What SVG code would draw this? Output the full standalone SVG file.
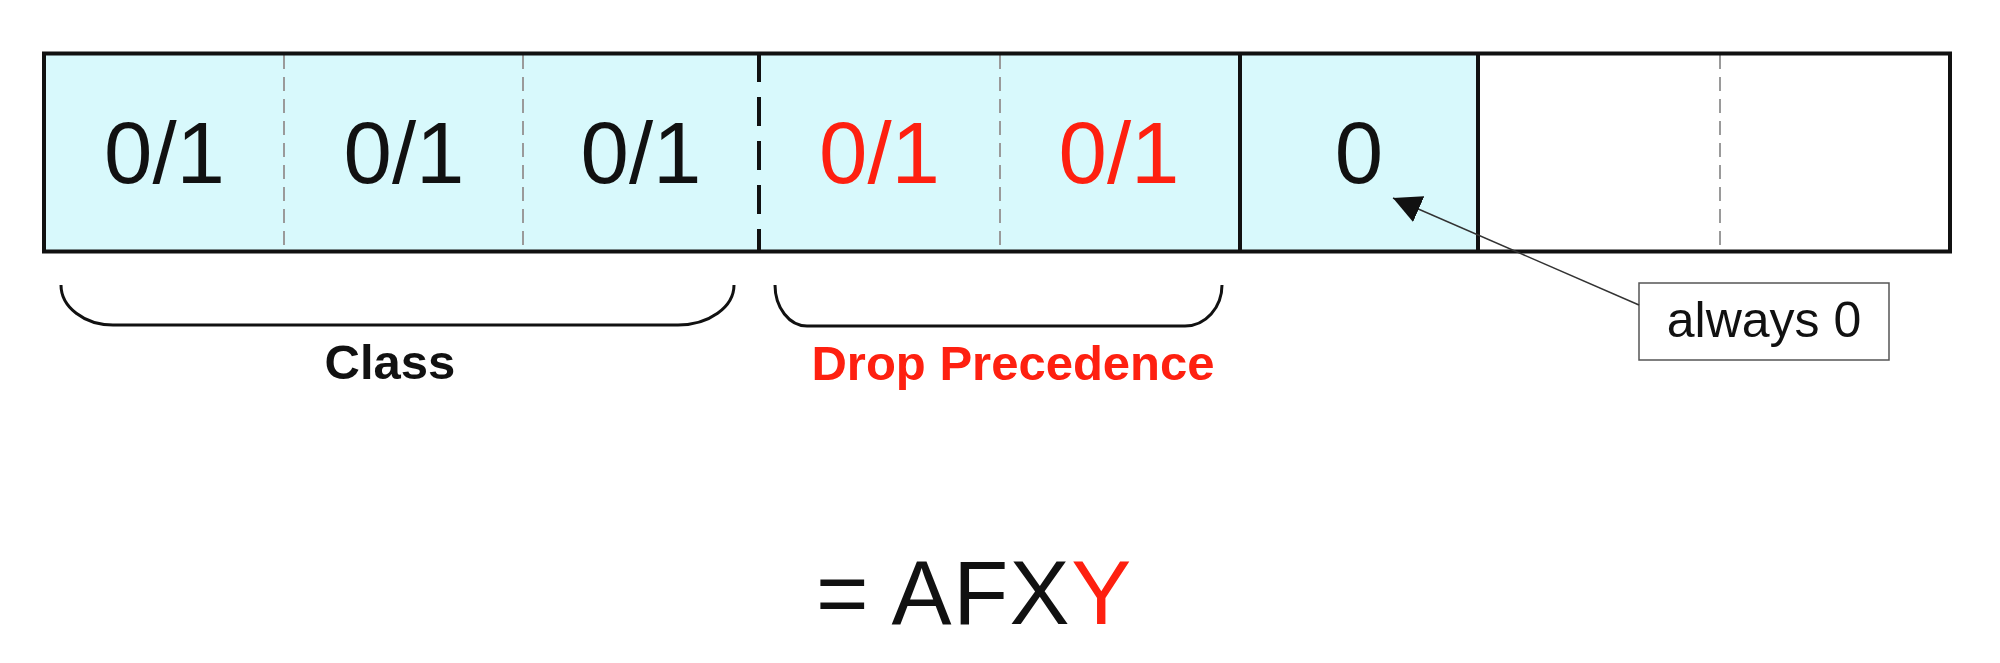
<svg xmlns="http://www.w3.org/2000/svg" width="2000" height="663" viewBox="0 0 2000 663">
  <style>
    .cell { font-family: "Liberation Sans", Arial, sans-serif; font-size: 87px; text-anchor: middle; fill: #111; }
    .red { fill: #fe2010; }
    .thin { stroke: #9a9a9a; stroke-width: 2; stroke-dasharray: 14 8; fill: none; }
    .solid { stroke: #111; stroke-width: 4; fill: none; }
    .brace { stroke: #111; stroke-width: 3; fill: none; }
    .lbl { font-family: "Liberation Sans", Arial, sans-serif; font-size: 49px; font-weight: bold; text-anchor: middle; }
  </style>
  <defs>
    <marker id="arrow" viewBox="0 0 10 10" refX="10" refY="5" markerUnits="userSpaceOnUse" markerWidth="28" markerHeight="28" orient="auto">
      <path d="M0,0 L10,5 L0,10 z" fill="#111"/>
    </marker>
  </defs>
  <rect width="2000" height="663" fill="#ffffff"/>

  <g id="field">
    <rect x="44" y="53.5" width="1434" height="198" fill="#d8f9fc"/>
    <rect x="1478" y="53.5" width="472" height="198" fill="#ffffff"/>
    <line class="thin" x1="284" y1="55" x2="284" y2="250"/>
    <line class="thin" x1="523" y1="55" x2="523" y2="250"/>
    <line class="thin" x1="1000" y1="55" x2="1000" y2="250"/>
    <line class="thin" x1="1720" y1="55" x2="1720" y2="250"/>
    <line x1="759" y1="53" x2="759" y2="252" stroke="#111" stroke-width="4" stroke-dasharray="29 15"/>
    <line class="solid" x1="1240" y1="53" x2="1240" y2="252"/>
    <line class="solid" x1="1478" y1="53" x2="1478" y2="252"/>
    <rect x="44" y="53.5" width="1906" height="198" fill="none" stroke="#111" stroke-width="4"/>
  </g>

  <g id="bit1"><text class="cell" x="164.5" y="183">0/1</text></g>
  <g id="bit2"><text class="cell" x="404" y="183">0/1</text></g>
  <g id="bit3"><text class="cell" x="641" y="183">0/1</text></g>
  <g id="bit4"><text class="cell red" x="879.5" y="183">0/1</text></g>
  <g id="bit5"><text class="cell red" x="1119" y="183">0/1</text></g>
  <g id="bit6"><text class="cell" x="1359" y="183">0</text></g>

  <g id="class-brace">
    <path class="brace" d="M61,285 A52,40 0 0,0 113,325 L678,325 A56,40 0 0,0 734,285"/>
    <text class="lbl" x="390" y="379" fill="#111">Class</text>
  </g>

  <g id="drop-brace">
    <path class="brace" d="M775,285 A32,41 0 0,0 807,326 L1185,326 A37,41 0 0,0 1222,285"/>
    <text class="lbl" x="1013" y="380" fill="#fe2010">Drop Precedence</text>
  </g>

  <g id="callout">
    <rect x="1639" y="283" width="250" height="77" fill="#ffffff" stroke="#555" stroke-width="1.5"/>
    <text x="1764" y="337" font-family="Liberation Sans, Arial, sans-serif" font-size="50" text-anchor="middle" fill="#111">always 0</text>
  </g>

  <g id="connectors">
    <line x1="1639" y1="305" x2="1393" y2="198" stroke="#333" stroke-width="1.5" marker-end="url(#arrow)"/>
  </g>

  <g id="equation">
    <text x="816" y="624" font-family="Liberation Sans, Arial, sans-serif" font-size="90" letter-spacing="1.5" fill="#111">= AFX<tspan fill="#fe2010">Y</tspan></text>
  </g>
</svg>
